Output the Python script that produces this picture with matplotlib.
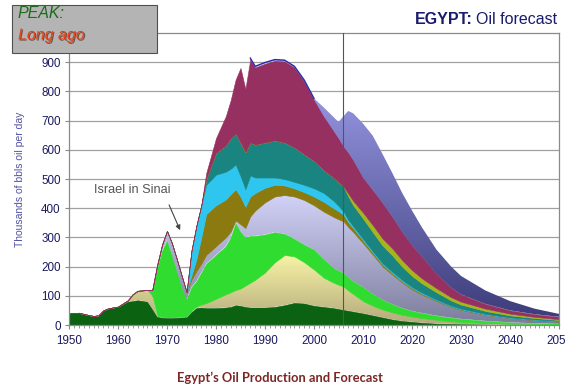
import matplotlib
matplotlib.use('Agg')
import matplotlib.pyplot as plt
import matplotlib.patheffects as pe
import numpy as np
from matplotlib.colors import LinearSegmentedColormap
from matplotlib.patches import Rectangle
from matplotlib.transforms import Bbox, TransformedBbox

plt.rcParams['font.family'] = ['Liberation Sans', 'DejaVu Sans']

# years
years = [1950, 1952, 1954, 1955, 1956, 1957, 1958, 1960,
         1962, 1963, 1964, 1966, 1967, 1968, 1969, 1970,
         1971, 1972, 1973, 1974, 1975, 1976, 1977, 1978,
         1980, 1982, 1983, 1984, 1985, 1986, 1987, 1988,
         1990, 1992, 1994, 1996, 1998, 2000, 2002, 2004,
         2005, 2006, 2007, 2008, 2010, 2012, 2014, 2016,
         2018, 2020, 2022, 2025, 2028, 2030, 2035, 2040,
         2045, 2050]

# cumulative top of each stacked layer (thousand b/d), bottom to top
dark_green = [40, 42, 34, 31, 33, 50, 57, 63,
              80, 82, 85, 80, 55, 28, 25, 24,
              24, 25, 26, 27, 45, 58, 60, 58,
              58, 60, 62, 68, 66, 62, 60, 60,
              60, 62, 68, 76, 74, 66, 62, 58,
              55, 52, 49, 46, 40, 33, 26, 19,
              14, 11, 8, 5, 4, 3, 2, 1,
              1, 0]
yellow = [40, 42, 34, 31, 33, 50, 57, 63,
          84, 105, 117, 120, 100, 32, 28, 27,
          27, 28, 29, 30, 50, 64, 70, 75,
          90, 105, 112, 120, 125, 135, 145, 155,
          180, 215, 240, 235, 215, 190, 162, 145,
          138, 132, 118, 106, 82, 66, 53, 43,
          35, 29, 24, 18, 13, 11, 7, 4,
          3, 2]
bright_green = [40, 42, 34, 31, 33, 50, 57, 63,
                84, 105, 117, 120, 118, 195, 255, 290,
                240, 185, 130, 88, 130, 150, 180, 210,
                240, 270, 300, 350, 320, 300, 305, 305,
                310, 318, 312, 295, 275, 258, 225, 195,
                186, 178, 163, 150, 130, 106, 86, 71,
                58, 48, 41, 32, 25, 21, 14, 9,
                6, 4]
lavender = [40, 42, 34, 31, 33, 50, 57, 63,
            84, 105, 117, 120, 120, 205, 275, 322,
            280, 225, 168, 112, 155, 185, 210, 240,
            270, 300, 320, 358, 345, 332, 372, 392,
            420, 440, 445, 440, 428, 410, 388, 370,
            362, 355, 335, 318, 280, 240, 200, 172,
            145, 122, 104, 82, 62, 52, 35, 24,
            17, 12]
olive = [40, 42, 34, 31, 33, 50, 57, 63,
         84, 105, 117, 120, 120, 205, 275, 322,
         280, 225, 168, 112, 170, 225, 300, 380,
         410, 430, 448, 465, 440, 405, 440, 452,
         470, 480, 478, 468, 455, 440, 422, 400,
         390, 378, 352, 332, 290, 248, 207, 178,
         150, 127, 108, 85, 64, 54, 36, 25,
         18, 13]
cyan = [40, 42, 34, 31, 33, 50, 57, 63,
        84, 105, 117, 120, 120, 205, 275, 322,
        280, 225, 168, 112, 255, 340, 410, 480,
        515, 525, 535, 550, 510, 465, 512, 505,
        505, 505, 500, 490, 480, 468, 452, 425,
        408, 389, 360, 338, 295, 252, 211, 182,
        154, 130, 111, 87, 66, 56, 38, 26,
        19, 14]
teal = [40, 42, 34, 31, 33, 50, 57, 63,
        84, 105, 117, 120, 120, 205, 275, 322,
        280, 225, 168, 112, 255, 340, 410, 500,
        590, 615, 640, 655, 625, 592, 625, 618,
        625, 632, 625, 608, 585, 562, 530, 505,
        490, 475, 440, 410, 365, 318, 272, 238,
        200, 168, 143, 112, 84, 70, 48, 33,
        24, 17]
new_fields = [40, 42, 34, 31, 33, 50, 57, 63,
              84, 105, 117, 120, 120, 205, 275, 322,
              280, 225, 168, 112, 255, 340, 410, 500,
              590, 615, 640, 655, 625, 592, 625, 618,
              625, 632, 625, 608, 585, 562, 530, 505,
              490, 475, 450, 425, 385, 342, 296, 262,
              222, 188, 160, 126, 95, 80, 56, 39,
              28, 20]
maroon = [40, 42, 34, 31, 33, 50, 57, 63,
          84, 105, 117, 120, 120, 205, 275, 322,
          280, 225, 168, 112, 255, 340, 410, 520,
          640, 715, 770, 840, 880, 808, 910, 882,
          895, 905, 903, 882, 835, 772, 715, 665,
          640, 612, 590, 565, 505, 462, 418, 370,
          318, 273, 235, 175, 128, 105, 72, 50,
          37, 28]
forecast = [40, 42, 34, 31, 33, 50, 57, 63,
            84, 105, 117, 120, 120, 205, 275, 322,
            280, 225, 168, 112, 255, 340, 410, 520,
            640, 715, 770, 840, 880, 808, 914, 886,
            899, 909, 907, 886, 839, 776, 745, 712,
            695, 715, 733, 725, 690, 648, 585, 520,
            452, 392, 335, 258, 200, 168, 118, 82,
            56, 38]

xtick_years = list(range(1950, 2051, 10))
ytick_vals = list(range(0, 901, 100))

layers = [
    (dark_green, '#0b6312', None),
    (yellow, None, ['#b3a97c', '#f8f4a6']),
    (bright_green, '#2fdc2f', None),
    (lavender, None, ['#7c7c9c', '#d2d2f8']),
    (olive, '#8a7a10', None),
    (cyan, '#2ec6ef', None),
    (teal, '#198480', None),
    (new_fields, '#a6b61a', None),
    (maroon, '#963060', None),
    (forecast, None, ['#3a3a78', '#a2a2f0']),
]

fig = plt.figure(figsize=(5.83, 3.89), dpi=100)
ax = fig.add_axes([69 / 583, 64 / 389, 490 / 583, 292 / 389])

lower = np.zeros(len(years))
for top, color, grad in layers:
    top = np.array(top, dtype=float)
    if grad is None:
        ax.fill_between(years, lower, top, facecolor=color, edgecolor=color,
                        lw=0.4, zorder=2)
    else:
        poly = ax.fill_between(years, lower, top, facecolor='none', lw=0, zorder=2)
        cmap = LinearSegmentedColormap.from_list('g', grad)
        im = ax.imshow(np.linspace(0, 1, 256).reshape(-1, 1), cmap=cmap,
                       origin='lower', aspect='auto', interpolation='bilinear',
                       extent=[1950, 2050, 0, top.max()], zorder=2)
        im.set_clip_path(poly.get_paths()[0], transform=ax.transData)
    lower = top

# dark blue rim along the historic peak
yr = np.array(years)
m = (yr >= 1987) & (yr <= 2001)
ax.plot(yr[m], np.array(forecast)[m], color='#2b2ba8', lw=1.0, zorder=3)

ax.axvline(2006, color='#555555', lw=0.8, zorder=5)

ax.set_xlim(1950, 2050)
ax.set_ylim(0, 1000)
ax.set_xticks(xtick_years)
ax.set_xticks(range(1950, 2051), minor=True)
ax.set_yticks(ytick_vals)
ax.yaxis.grid(True, color='#a0a0a0', lw=0.9)
ax.set_axisbelow(True)
ax.tick_params(axis='both', which='major', length=3, color='#888888',
               labelsize=8.4, labelcolor='#1a1a60')
ax.tick_params(axis='x', which='minor', length=2.5, color='#888888')
ax.tick_params(axis='x', pad=4)
ax.tick_params(axis='y', pad=3)
for s in ax.spines.values():
    s.set_color('#8a8a8a')
    s.set_linewidth(0.9)

ax.set_ylabel('Thousands of bbls oil per day', color='#5252a2', size=7.5)
ax.yaxis.set_label_coords(-0.09, 0.5)

ax.text(1962.9, 464, 'Israel in Sinai', ha='center', va='center',
        size=9.2, color='#555555', zorder=6)
ax.annotate('', xy=(1972.9, 316), xytext=(1970.2, 420),
            arrowprops=dict(arrowstyle='-|>', color='#444444', lw=0.8,
                            mutation_scale=7), zorder=6)

# PEAK box
fig.add_artist(Rectangle((12 / 583, 1 - 53 / 389), 145 / 583, 48 / 389,
                         transform=fig.transFigure, facecolor='#b4b4b4',
                         edgecolor='#505050', lw=0.8, zorder=10))
fig.text(18 / 583, 1 - 13 / 389, 'PEAK:', style='italic', size=11.5,
         color='#1e6b1e', va='center', zorder=11)
fig.text(18 / 583, 1 - 35 / 389, 'Long ago', style='italic', size=11.5,
         color='#e8401a', va='center', zorder=11,
         path_effects=[pe.withSimplePatchShadow(offset=(0.8, -0.8),
                                                shadow_rgbFace='#3a1a00',
                                                alpha=0.6)])

# title
t2 = fig.text(557 / 583, 1 - 24 / 389, 'Oil forecast', ha='right',
              va='baseline', size=11.5, color='#1a1a6e')
fig.canvas.draw()
bb = t2.get_window_extent()
fig.text((bb.x0 - 3) / 583, 1 - 24 / 389, 'EGYPT:', ha='right', va='baseline',
         size=11.5, weight='bold', color='#1a1a6e')

fig.text(280 / 583, 1 - 378 / 389, 'Egypt\u2019s Oil Production and Forecast',
         ha='center', va='center', weight='bold', size=9.3,
         color='#7b2525', family=['Lato', 'DejaVu Sans'])

# last year label is cut off at the right
clip = TransformedBbox(Bbox([[0, 0], [566 / 583, 1]]), fig.transFigure)
for lbl in ax.get_xticklabels():
    if lbl.get_text() == '2050':
        lbl.set_clip_on(True)
        lbl.set_clip_box(clip)

fig.savefig('out.png', dpi=100)
